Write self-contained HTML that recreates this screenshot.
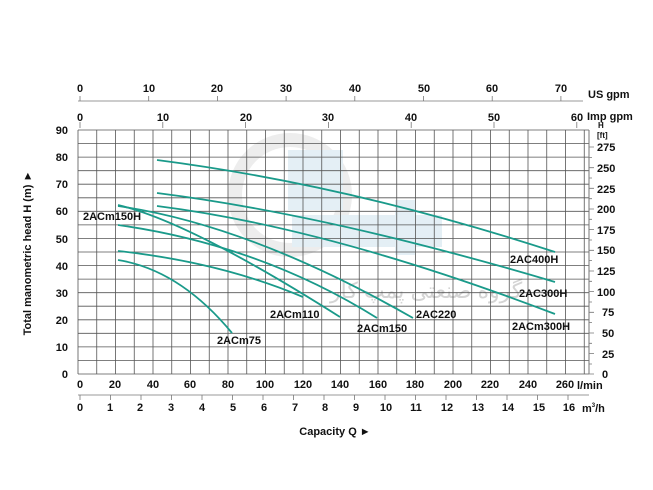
<!DOCTYPE html>
<html><head><meta charset="utf-8"><style>
html,body{margin:0;padding:0;background:#fff;}
svg{display:block;font-family:"Liberation Sans",sans-serif;font-weight:bold;}
</style></head><body>
<svg width="653" height="490" viewBox="0 0 653 490" xmlns="http://www.w3.org/2000/svg">
<!-- watermark -->
<g opacity="0.3">
<circle cx="290" cy="195" r="55" fill="none" stroke="#c4c4c4" stroke-width="14"/>
<rect x="288" y="150" width="55" height="60" fill="#a8cbe0"/>
<rect x="292" y="215" width="150" height="32" fill="#a8cbe0"/>
<rect x="395" y="200" width="20" height="55" fill="#a8cbe0"/>
</g>
<text x="330" y="298" font-size="22" fill="#d4d4d4" font-weight="normal" font-family="'Liberation Sans','DejaVu Sans',sans-serif">گروه صنعتی پمپ کار</text>
<g id="grid" stroke="#555" stroke-width="0.8">
<path d="M78,130V374M96.75,130V374M115.5,130V374M134.25,130V374M153,130V374M171.75,130V374M190.5,130V374M209.25,130V374M228,130V374M246.75,130V374M265.5,130V374M284.25,130V374M303,130V374M321.75,130V374M340.5,130V374M359.25,130V374M378,130V374M396.75,130V374M415.5,130V374M434.25,130V374M453,130V374M471.75,130V374M490.5,130V374M509.25,130V374M528,130V374M546.75,130V374M565.5,130V374M584.25,130V374M589,130V374"/>
<path d="M78,130.0H589M78,143.6H589M78,157.1H589M78,170.7H589M78,184.2H589M78,197.8H589M78,211.3H589M78,224.9H589M78,238.4H589M78,252.0H589M78,265.6H589M78,279.1H589M78,292.7H589M78,306.2H589M78,319.8H589M78,333.3H589M78,346.9H589M78,360.4H589M78,374H589"/>
</g>
<g fill="none" stroke="#1a9a8a" stroke-width="1.8">
<path d="M157,160 Q350,185 555,252"/>
<path d="M157,193 Q330,215 555,282"/>
<path d="M157,206 Q330,228 555,314"/>
<path d="M118,206 Q250,225 413,318"/>
<path d="M118,225 Q260,245 377,318"/>
<path d="M118,205 Q190,222 340,317"/>
<path d="M118,251 Q220,262 303,297"/>
<path d="M118,260 Q180,270 232,333"/>
</g>
<g font-size="11" fill="#111">
<text x="83" y="220">2ACm150H</text>
<text x="217" y="344">2ACm75</text>
<text x="270" y="318">2ACm110</text>
<text x="357" y="332">2ACm150</text>
<text x="416" y="318">2AC220</text>
<text x="510" y="263">2AC400H</text>
<text x="519" y="297">2AC300H</text>
<text x="512" y="330">2ACm300H</text>
</g>
<!-- left axis -->
<g font-size="11" fill="#111" text-anchor="end">
<text x="68" y="134">90</text><text x="68" y="161">80</text><text x="68" y="188">70</text><text x="68" y="215">60</text><text x="68" y="243">50</text><text x="68" y="270">40</text><text x="68" y="297">30</text><text x="68" y="324">20</text><text x="68" y="351">10</text><text x="68" y="378">0</text>
</g>
<text transform="translate(31,253) rotate(-90)" font-size="11" text-anchor="middle" fill="#111">Total manometric head H (m) ►</text>
<!-- right axis -->
<g stroke="#777" stroke-width="0.8">
<path d="M589,130V374"/>
<path d="M589,147h5M589,167.7h5M589,188.3h5M589,209h5M589,229.6h5M589,250.3h5M589,271h5M589,291.6h5M589,312.3h5M589,333h5M589,353.6h5M589,374h5"/>
<path d="M589,157.4h3M589,178h3M589,198.7h3M589,219.3h3M589,240h3M589,260.6h3M589,281.3h3M589,302h3M589,322.6h3M589,343.3h3M589,364h3"/>
</g>
<g font-size="11" fill="#111">
<text x="597" y="151">275</text><text x="597" y="172">250</text><text x="597" y="193">225</text><text x="597" y="213">200</text><text x="597" y="234">175</text><text x="597" y="254">150</text><text x="597" y="275">125</text><text x="597" y="296">100</text><text x="602" y="316">75</text><text x="602" y="337">50</text><text x="602" y="358">25</text><text x="602" y="378">0</text>
</g>
<text x="598" y="128" font-size="8" fill="#111">H</text>
<text x="597" y="138" font-size="8" fill="#111">[ft]</text>
<!-- top axes -->
<g stroke="#777" stroke-width="0.8">
<path d="M78,101H583"/>
<path d="M80,101v-5M148.7,101v-5M217.4,101v-5M286.1,101v-5M354.8,101v-5M423.5,101v-5M492.2,101v-5M560.9,101v-5"/>
<path d="M80,122v6M162.8,122v6M245.6,122v6M328.4,122v6M411.2,122v6M494,122v6M576.8,122v6"/>
</g>
<g font-size="11" fill="#111" text-anchor="middle">
<text x="80" y="92">0</text><text x="149" y="92">10</text><text x="217" y="92">20</text><text x="286" y="92">30</text><text x="355" y="92">40</text><text x="424" y="92">50</text><text x="492" y="92">60</text><text x="561" y="92">70</text>
<text x="80" y="121">0</text><text x="163" y="121">10</text><text x="246" y="121">20</text><text x="328" y="121">30</text><text x="411" y="121">40</text><text x="494" y="121">50</text><text x="577" y="121">60</text>
</g>
<text x="588" y="98" font-size="11" fill="#111">US gpm</text>
<text x="587" y="120" font-size="11" fill="#111">Imp gpm</text>
<!-- bottom axes -->
<g font-size="11" fill="#111" text-anchor="middle">
<text x="80" y="388">0</text><text x="115" y="388">20</text><text x="153" y="388">40</text><text x="190" y="388">60</text><text x="228" y="388">80</text><text x="265" y="388">100</text><text x="303" y="388">120</text><text x="340" y="388">140</text><text x="378" y="388">160</text><text x="415" y="388">180</text><text x="453" y="388">200</text><text x="490" y="388">220</text><text x="528" y="388">240</text><text x="565" y="388">260</text>
<text x="80" y="411">0</text><text x="110" y="411">1</text><text x="140" y="411">2</text><text x="171" y="411">3</text><text x="202" y="411">4</text><text x="233" y="411">5</text><text x="264" y="411">6</text><text x="295" y="411">7</text><text x="325" y="411">8</text><text x="356" y="411">9</text><text x="386" y="411">10</text><text x="416" y="411">11</text><text x="447" y="411">12</text><text x="478" y="411">13</text><text x="508" y="411">14</text><text x="539" y="411">15</text><text x="569" y="411">16</text>
</g>
<text x="577" y="389" font-size="11" fill="#111">l/min</text>
<text x="582" y="412" font-size="11" fill="#111">m<tspan font-size="6" dy="-5">3</tspan><tspan dy="5">/h</tspan></text>
<g stroke="#777" stroke-width="0.8">
<path d="M78,395H589"/>
<path d="M80,395v5M110.5,395v5M141,395v5M171.5,395v5M202,395v5M232.5,395v5M263,395v5M293.5,395v5M324,395v5M354.5,395v5M385,395v5M415.5,395v5M446,395v5M476.5,395v5M507,395v5M537.5,395v5M568,395v5"/>
</g>
<text x="335" y="435" font-size="11" fill="#111" text-anchor="middle">Capacity Q ►</text>
</svg>
</body></html>
